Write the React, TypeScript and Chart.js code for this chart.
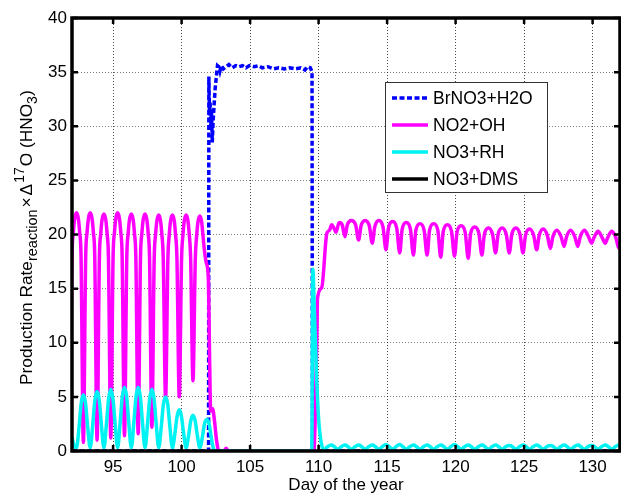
import { useEffect, useRef } from 'react';
import { Chart, registerables } from 'chart.js';

Chart.register(...registerables);

const FONT = "'Liberation Sans', Arial, Helvetica, sans-serif";

const xTickValues = [95, 100, 105, 110, 115, 120, 125, 130];
const yTickValues = [0, 5, 10, 15, 20, 25, 30, 35, 40];
const seriesNames = ['BrNO3+H2O', 'NO2+OH', 'NO3+RH', 'NO3+DMS'];
const seriesColors = ['#0000ff', '#ff00ff', '#00f2f2', '#000000'];

// BrNO3+H2O (blue dashed)
const brno3Days = [
  92.0, 101.97, 101.99, 102.04, 102.08, 102.13, 102.18, 102.24, 102.3, 102.45, 102.62,
  102.72, 102.8, 102.9, 103.05, 103.25, 103.45, 103.7, 103.95, 104.2, 104.45, 104.7,
  104.95, 105.3, 105.6, 105.9, 106.3, 106.7, 107.1, 107.5, 107.9, 108.3, 108.7, 109.0,
  109.2, 109.4, 109.52, 109.55, 132.0,
];
const brno3Values = [
  0, 0, 34.6, 31.0, 32.2, 29.8, 31.4, 28.5, 30.5, 33.5, 35.6,
  35.5, 35.1, 35.6, 35.3, 35.5, 35.7, 35.4, 35.6, 35.5, 35.6, 35.4,
  35.6, 35.5, 35.6, 35.4, 35.5, 35.3, 35.4, 35.3, 35.4, 35.3, 35.4, 35.2,
  35.5, 35.4, 35.0, 0, 0,
];

// NO2+OH (magenta)
const no2ohDays = [
  91.83, 92.0, 92.1, 92.2, 92.33, 92.46, 92.56, 92.66,
  92.83, 93.0, 93.1, 93.2, 93.33, 93.46, 93.56, 93.66,
  93.83, 94.0, 94.1, 94.2, 94.33, 94.46, 94.56, 94.66,
  94.83, 95.0, 95.1, 95.2, 95.33, 95.46, 95.56, 95.66,
  95.83, 96.0, 96.1, 96.2, 96.33, 96.46, 96.56, 96.66,
  96.83, 97.0, 97.1, 97.2, 97.33, 97.46, 97.56, 97.66,
  97.83, 98.0, 98.1, 98.2, 98.33, 98.46, 98.56, 98.66,
  98.83, 99.0, 99.1, 99.2, 99.33, 99.46, 99.56, 99.66,
  99.83, 100.0, 100.1, 100.2, 100.33, 100.46, 100.56, 100.66,
  100.83, 101.0, 101.1, 101.2, 101.33, 101.46, 101.56, 101.66,
  101.8, 101.95, 102.05, 102.12, 102.26, 102.4, 102.55, 102.72, 103.1, 103.25, 103.4,
  109.65, 109.87, 109.92, 110.23, 110.6, 110.8, 110.95, 111.12, 111.27, 111.5, 111.72,
  111.92, 112.1, 112.4, 112.7,
  112.92, 113.1, 113.4, 113.7,
  113.92, 114.1, 114.4, 114.7,
  114.92, 115.1, 115.4, 115.7,
  115.92, 116.1, 116.4, 116.7,
  116.92, 117.1, 117.4, 117.7,
  117.92, 118.1, 118.4, 118.7,
  118.92, 119.1, 119.4, 119.7,
  119.92, 120.1, 120.4, 120.7,
  120.92, 121.1, 121.4, 121.7,
  121.92, 122.1, 122.4, 122.7,
  122.92, 123.1, 123.4, 123.7,
  123.92, 124.1, 124.4, 124.7,
  124.92, 125.1, 125.4, 125.7,
  125.92, 126.1, 126.4, 126.7,
  126.92, 127.1, 127.4, 127.7,
  127.92, 128.1, 128.4, 128.7,
  128.92, 129.1, 129.4, 129.7,
  129.92, 130.1, 130.4, 130.7,
  130.92, 131.1, 131.4, 131.7,
  131.92, 132.1,
];
const no2ohValues = [
  1.0, 18.0, 20.2, 21.5, 22.0, 21.5, 20.2, 18.0,
  0.8, 18.0, 20.2, 21.5, 22.0, 21.5, 20.2, 18.0,
  1.0, 17.9, 20.1, 21.4, 21.9, 21.4, 20.1, 17.9,
  1.2, 18.0, 20.2, 21.5, 22.0, 21.5, 20.2, 18.0,
  1.4, 17.9, 20.1, 21.4, 21.9, 21.4, 20.1, 17.9,
  1.6, 17.9, 20.1, 21.4, 21.9, 21.4, 20.1, 17.9,
  2.2, 17.8, 20.0, 21.3, 21.8, 21.3, 20.0, 17.8,
  4.8, 17.8, 20.0, 21.3, 21.8, 21.3, 20.0, 17.8,
  5.0, 17.8, 20.0, 21.3, 21.8, 21.3, 20.0, 17.8,
  6.5, 17.7, 19.9, 21.2, 21.7, 21.2, 19.9, 18.6,
  17.4, 16.0, 8.0, 3.7, 3.9, 2.8, 1.0, 0.0, 0.0, 0.25, 0.0,
  0.0, 10.5, 14.1, 15.1, 20.1, 20.4, 20.9, 20.6, 20.2, 21.1, 20.9,
  19.8, 20.9, 21.3, 20.9,
  19.5, 20.8, 21.3, 20.8,
  19.2, 20.7, 21.3, 20.7,
  18.6, 20.6, 21.2, 20.6,
  18.3, 20.5, 21.1, 20.5,
  18.1, 20.4, 21.0, 20.4,
  18.1, 20.4, 21.0, 20.4,
  17.9, 20.3, 20.9, 20.3,
  18.0, 20.2, 20.8, 20.2,
  17.8, 20.1, 20.7, 20.1,
  18.1, 20.0, 20.6, 20.0,
  18.3, 20.0, 20.6, 20.0,
  18.3, 20.0, 20.6, 20.0,
  18.3, 19.9, 20.5, 19.9,
  18.6, 19.9, 20.5, 19.9,
  18.7, 19.8, 20.4, 19.8,
  18.9, 19.8, 20.4, 19.8,
  18.9, 19.8, 20.4, 19.8,
  19.2, 19.7, 20.3, 19.7,
  19.2, 19.7, 20.3, 19.7,
  18.7, 19.6,
];

// NO3+RH (cyan)
const no3rhDays = [
  92.0, 92.15,
  92.33, 92.52, 92.67, 92.83, 92.99, 93.14,
  93.33, 93.52, 93.67, 93.83, 93.99, 94.14,
  94.33, 94.52, 94.67, 94.83, 94.99, 95.14,
  95.33, 95.52, 95.67, 95.83, 95.99, 96.14,
  96.33, 96.52, 96.67, 96.83, 96.99, 97.14,
  97.33, 97.52, 97.67, 97.83, 97.99, 98.14,
  98.33, 98.52, 98.67, 98.83, 98.99, 99.14,
  99.33, 99.52, 99.67, 99.83, 99.99, 100.14,
  100.33, 100.52, 100.67, 100.83, 100.99, 101.14,
  101.33, 101.52, 101.67, 101.85, 102.01, 102.16,
  102.33, 102.5, 109.5, 109.58, 109.68, 109.85, 110.0, 110.2, 110.4,
  110.65, 110.92, 111.15, 111.4,
  111.65, 111.92, 112.15, 112.4,
  112.65, 112.92, 113.15, 113.4,
  113.65, 113.92, 114.15, 114.4,
  114.65, 114.92, 115.15, 115.4,
  115.65, 115.92, 116.15, 116.4,
  116.65, 116.92, 117.15, 117.4,
  117.65, 117.92, 118.15, 118.4,
  118.65, 118.92, 119.15, 119.4,
  119.65, 119.92, 120.15, 120.4,
  120.65, 120.92, 121.15, 121.4,
  121.65, 121.92, 122.15, 122.4,
  122.65, 122.92, 123.15, 123.4,
  123.65, 123.92, 124.15, 124.4,
  124.65, 124.92, 125.15, 125.4,
  125.65, 125.92, 126.15, 126.4,
  126.65, 126.92, 127.15, 127.4,
  127.65, 127.92, 128.15, 128.4,
  128.65, 128.92, 129.15, 129.4,
  129.65, 129.92, 130.15, 130.4,
  130.65, 130.92, 131.15, 131.4,
  131.65, 131.92, 132.15,
];
const no3rhValues = [
  1.3, 0.5,
  0.3, 2.3, 4.4, 5.2, 4.4, 2.3,
  0.3, 2.5, 4.7, 5.5, 4.7, 2.5,
  0.3, 2.6, 4.8, 5.7, 4.8, 2.6,
  0.3, 2.7, 5.0, 5.9, 5.0, 2.7,
  0.3, 2.7, 5.0, 5.9, 5.0, 2.7,
  0.3, 2.6, 4.8, 5.7, 4.8, 2.6,
  0.3, 2.3, 4.3, 5.0, 4.3, 2.3,
  0.3, 1.7, 3.2, 3.8, 3.2, 1.7,
  0.3, 1.5, 2.8, 3.3, 2.8, 1.5,
  0.3, 1.3, 2.5, 2.9, 2.5, 1.3,
  0.2, 0.0, 0.0, 16.8, 13.5, 7.0, 3.0, 0.7, 0.15,
  0.4, 0.55, 0.4, 0.15,
  0.4, 0.55, 0.4, 0.15,
  0.4, 0.55, 0.4, 0.15,
  0.4, 0.55, 0.4, 0.15,
  0.4, 0.6, 0.4, 0.15,
  0.4, 0.6, 0.4, 0.15,
  0.4, 0.55, 0.4, 0.15,
  0.4, 0.55, 0.4, 0.15,
  0.4, 0.55, 0.4, 0.15,
  0.4, 0.6, 0.4, 0.15,
  0.4, 0.55, 0.4, 0.15,
  0.4, 0.55, 0.4, 0.15,
  0.4, 0.55, 0.4, 0.15,
  0.4, 0.5, 0.4, 0.15,
  0.4, 0.55, 0.4, 0.15,
  0.4, 0.55, 0.4, 0.15,
  0.4, 0.5, 0.4, 0.15,
  0.4, 0.55, 0.4, 0.15,
  0.4, 0.55, 0.4, 0.15,
  0.4, 0.5, 0.4, 0.15,
  0.4, 0.55, 0.4, 0.15,
  0.4, 0.55, 0.4,
];

// NO3+DMS (black)
const no3dmsDays = [92.0, 132.0];
const no3dmsValues = [0.0, 0.0];

function toPoints(days: number[], values: number[]) {
  return days.map((d, i) => ({ x: d, y: values[i] }));
}

const yTitleParts = [
  { text: 'Production Rate', size: 17.3, dy: 0, gap: 0 },
  { text: 'reaction', size: 14.5, dy: 5, gap: 2 },
  { text: '\u00d7', size: 17.3, dy: 0, gap: 2 },
  { text: '\u0394', size: 17.3, dy: 0, gap: 1 },
  { text: '17', size: 14, dy: -8, gap: 1 },
  { text: 'O (HNO', size: 17.3, dy: 0, gap: 0 },
  { text: '3', size: 14, dy: 5, gap: 0 },
  { text: ')', size: 17.3, dy: 0, gap: 0 },
];

const decorPlugin = {
  id: 'decor',
  afterDatasetsDraw(chart: any) {
    const { ctx, chartArea: a, scales } = chart;
    const xs = scales.x;
    const ys = scales.y;
    ctx.save();
    // inward ticks on all four sides
    ctx.strokeStyle = '#000';
    ctx.lineWidth = 2.5;
    ctx.setLineDash([]);
    ctx.beginPath();
    for (const v of xTickValues) {
      const px = xs.getPixelForValue(v);
      ctx.moveTo(px, a.bottom);
      ctx.lineTo(px, a.bottom - 6);
      ctx.moveTo(px, a.top);
      ctx.lineTo(px, a.top + 6);
    }
    for (const v of yTickValues) {
      const py = ys.getPixelForValue(v);
      ctx.moveTo(a.left, py);
      ctx.lineTo(a.left + 6, py);
      ctx.moveTo(a.right, py);
      ctx.lineTo(a.right - 6, py);
    }
    ctx.stroke();
    // axes box
    ctx.lineWidth = 3.5;
    ctx.strokeRect(a.left, a.top, a.right - a.left, a.bottom - a.top);

    // legend
    const lx = 385.5, ly = 82.5, lw = 162, lh = 110;
    ctx.fillStyle = '#fff';
    ctx.fillRect(lx, ly, lw, lh);
    ctx.lineWidth = 1;
    ctx.strokeStyle = '#333';
    ctx.strokeRect(lx, ly, lw, lh);
    const rows = [98, 125, 152, 179];
    ctx.font = `17.5px ${FONT}`;
    ctx.textBaseline = 'middle';
    ctx.textAlign = 'left';
    seriesNames.forEach((name, i) => {
      ctx.beginPath();
      ctx.strokeStyle = seriesColors[i];
      ctx.lineWidth = 3.5;
      ctx.setLineDash(i === 0 ? [5, 2.5] : []);
      ctx.moveTo(392, rows[i]);
      ctx.lineTo(428, rows[i]);
      ctx.stroke();
      ctx.setLineDash([]);
      ctx.fillStyle = '#000';
      ctx.fillText(name, 433, rows[i] + 1);
    });

    // y-axis title with sub/superscripts
    ctx.save();
    ctx.translate(32, 385);
    ctx.rotate(-Math.PI / 2);
    ctx.fillStyle = '#000';
    ctx.textBaseline = 'alphabetic';
    let cx = 0;
    for (const p of yTitleParts) {
      ctx.font = `${p.size}px ${FONT}`;
      ctx.fillText(p.text, cx, p.dy);
      cx += ctx.measureText(p.text).width + p.gap;
    }
    ctx.restore();
    ctx.restore();
  },
};

export default function App() {
  const ref = useRef<HTMLCanvasElement | null>(null);
  useEffect(() => {
    if (!ref.current) return;
    const tickFont = { family: FONT, size: 17 };
    const chart = new Chart(ref.current, {
      type: 'line',
      data: {
        datasets: [
          {
            label: seriesNames[0],
            data: toPoints(brno3Days, brno3Values),
            borderColor: seriesColors[0],
            borderWidth: 3.5,
            borderDash: [5, 2.5],
            tension: 0,
            order: 4,
          },
          {
            label: seriesNames[1],
            data: toPoints(no2ohDays, no2ohValues),
            borderColor: seriesColors[1],
            borderWidth: 3.5,
            cubicInterpolationMode: 'monotone',
            order: 3,
          },
          {
            label: seriesNames[2],
            data: toPoints(no3rhDays, no3rhValues),
            borderColor: seriesColors[2],
            borderWidth: 3.5,
            cubicInterpolationMode: 'monotone',
            order: 2,
          },
          {
            label: seriesNames[3],
            data: toPoints(no3dmsDays, no3dmsValues),
            borderColor: seriesColors[3],
            borderWidth: 2,
            order: 1,
          },
        ],
      } as any,
      options: {
        animation: false,
        responsive: false,
        devicePixelRatio: 1,
        layout: { padding: { top: 18, right: 1, left: 0, bottom: 0 } },
        elements: { point: { radius: 0, hoverRadius: 0 } },
        plugins: { legend: { display: false }, tooltip: { enabled: false } },
        events: [],
        scales: {
          x: {
            type: 'linear',
            min: 92,
            max: 132,
            afterBuildTicks: (s: any) => {
              s.ticks = xTickValues.map((v) => ({ value: v }));
            },
            afterFit: (s: any) => {
              s.height = 43;
            },
            grid: { color: 'rgba(0,0,0,0.7)', lineWidth: 1, drawTicks: false },
            border: { display: false, dash: [1, 2] },
            ticks: { font: tickFont, color: '#000', padding: 6, maxRotation: 0, autoSkip: false },
            title: {
              display: true,
              text: 'Day of the year',
              font: { family: FONT, size: 17 },
              color: '#000',
              padding: { top: 0, bottom: -2 },
            },
          },
          y: {
            type: 'linear',
            min: 0,
            max: 40,
            afterBuildTicks: (s: any) => {
              s.ticks = yTickValues.map((v) => ({ value: v }));
            },
            afterFit: (s: any) => {
              s.width = 72;
            },
            grid: { color: 'rgba(0,0,0,0.5)', lineWidth: 1, drawTicks: false },
            border: { display: false, dash: [1, 2] },
            ticks: { font: tickFont, color: '#000', padding: 5, autoSkip: false },
          },
        },
      } as any,
      plugins: [decorPlugin],
    });
    return () => chart.destroy();
  }, []);
  return (
    <div style={{ position: 'fixed', left: 0, top: 0, width: 621, height: 494, background: '#fff' }}>
      <canvas ref={ref} width={621} height={494} style={{ width: 621, height: 494 }} />
    </div>
  );
}
